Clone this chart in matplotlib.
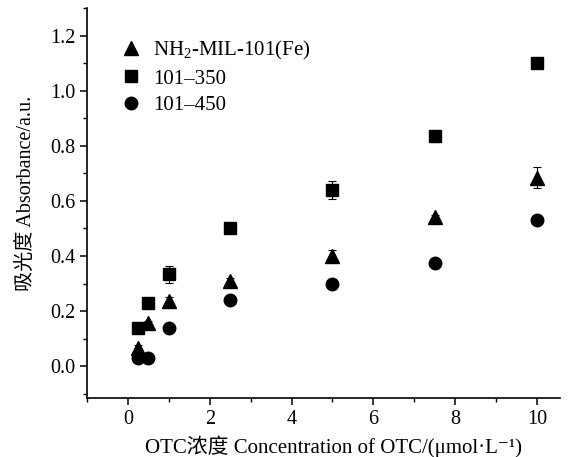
import numpy as np
import matplotlib
matplotlib.use("Agg")
import matplotlib.pyplot as plt
from matplotlib.ticker import MultipleLocator

plt.rcParams['font.family'] = ['Liberation Serif', 'Noto Sans CJK SC', 'DejaVu Serif']
plt.rcParams['mathtext.fontset'] = 'custom'
plt.rcParams['mathtext.rm'] = 'Liberation Serif'

conc = [0.25, 0.5, 1.0, 2.5, 5.0, 7.5, 10.0]

# NH2-MIL-101(Fe)
tri = [0.065, 0.155, 0.235, 0.31, 0.40, 0.54, 0.685]
tri_err = [0.01, 0.01, 0.015, 0.01, 0.02, 0.01, 0.037]
# 101-350
sq = [0.14, 0.23, 0.333, 0.50, 0.64, 0.835, 1.10]
sq_err = [0.01, 0.01, 0.03, 0.01, 0.033, 0.02, 0.015]
# 101-450
circ = [0.028, 0.031, 0.14, 0.24, 0.30, 0.376, 0.53]
circ_err = [0.01, 0.01, 0.01, 0.01, 0.01, 0.01, 0.01]

yticks = [0.0, 0.2, 0.4, 0.6, 0.8, 1.0, 1.2]

fig = plt.figure(figsize=(5.81, 4.57), dpi=100)
ax = fig.add_axes([0.150, 0.129, 0.814, 0.853])

kw = dict(ls='none', color='black', ecolor='black', elinewidth=0.8,
          capsize=3, capthick=0.8)
ax.errorbar(conc, tri, yerr=tri_err, marker='^', ms=10,
            label=r'NH$_2$-MIL-101(Fe)', **kw)
ax.errorbar(conc, sq, yerr=sq_err, marker='s', ms=8.5,
            label='101–350', **kw)
ax.errorbar(conc, circ, yerr=circ_err, marker='o', ms=9,
            label='101–450', **kw)

ax.set_xlim(-1, 10.57)
ax.set_ylim(-0.116, 1.3)
ax.xaxis.set_major_locator(MultipleLocator(2))
ax.xaxis.set_minor_locator(MultipleLocator(1))
ax.yaxis.set_minor_locator(MultipleLocator(0.1))
ax.set_yticks(yticks)
ax.set_yticklabels([f'{v:.1f}' for v in yticks])

ax.spines['top'].set_visible(False)
ax.spines['right'].set_visible(False)
for s in ('left', 'bottom'):
    ax.spines[s].set_linewidth(1.2)
ax.tick_params(which='major', direction='out', length=5, width=1.1,
               labelsize=14.5)
ax.tick_params(which='minor', direction='out', length=3, width=1.0)

ax.set_xlabel('OTC浓度 Concentration of OTC/(μmol·L⁻¹)', fontsize=15)
ax.xaxis.set_label_coords(0.52, -0.095)
ax.set_ylabel('吸光度 Absorbance/a.u.', fontsize=14.5)
ax.yaxis.set_label_coords(-0.108, 0.526)

handles, labels = ax.get_legend_handles_labels()
handles = [h[0] for h in handles]
ax.legend(handles, labels, loc='upper left', bbox_to_anchor=(0.03, 0.97),
          frameon=False, fontsize=15, handletextpad=0.6,
          handlelength=1.0, labelspacing=0.35)

fig.savefig('out.png', dpi=100)
